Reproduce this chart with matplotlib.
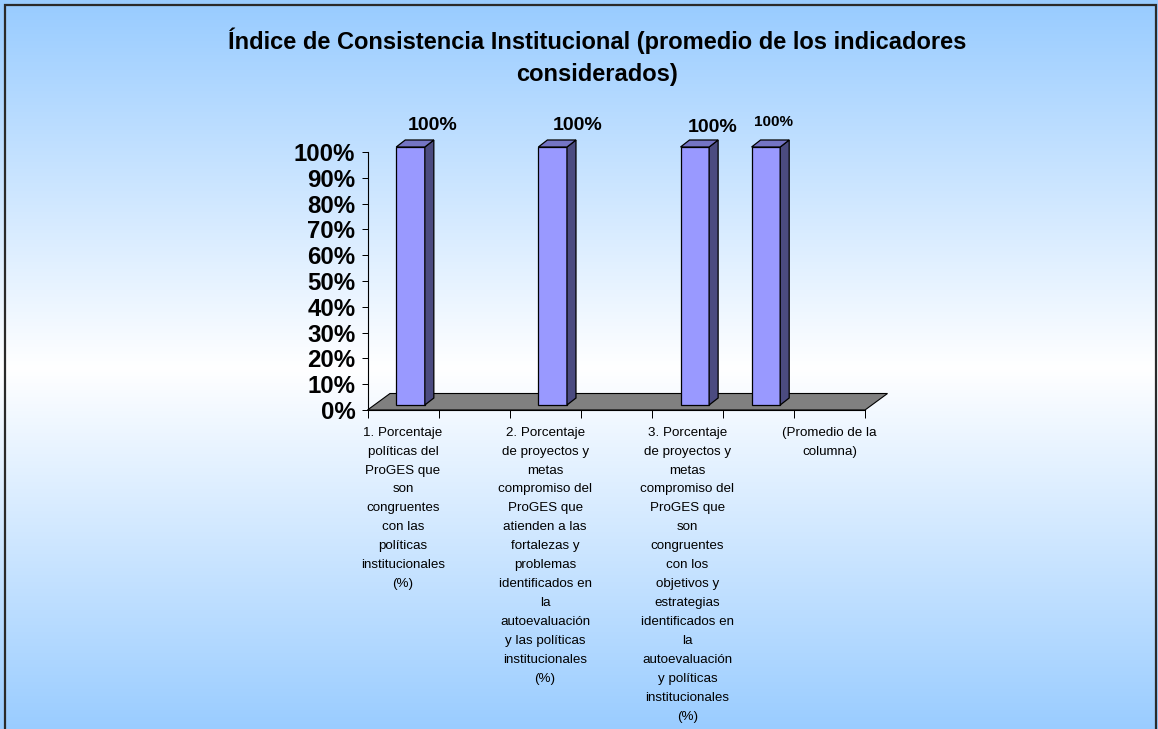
import numpy as np
import matplotlib
matplotlib.use("Agg")
import matplotlib.pyplot as plt
from matplotlib.patches import Polygon, Rectangle

plt.rcParams['font.family'] = ['Liberation Sans', 'DejaVu Sans']

# ---------------- data ----------------
title = "Índice de Consistencia Institucional (promedio de los indicadores\nconsiderados)"
categories = [
    "1. Porcentaje\npolíticas del\nProGES que\nson\ncongruentes\ncon las\npolíticas\ninstitucionales\n(%)",
    "",
    "2. Porcentaje\nde proyectos y\nmetas\ncompromiso del\nProGES que\natienden a las\nfortalezas y\nproblemas\nidentificados en\nla\nautoevaluación\ny las políticas\ninstitucionales\n(%)",
    "",
    "3. Porcentaje\nde proyectos y\nmetas\ncompromiso del\nProGES que\nson\ncongruentes\ncon los\nobjetivos y\nestrategias\nidentificados en\nla\nautoevaluación\ny políticas\ninstitucionales\n(%)",
    "",
    "(Promedio de la\ncolumna)",
]
values = [1.0, np.nan, 1.0, np.nan, 1.0, 1.0, np.nan]
y_ticks = [0.0, 0.1, 0.2, 0.3, 0.4, 0.5, 0.6, 0.7, 0.8, 0.9, 1.0]
y_tick_labels = ["0%", "10%", "20%", "30%", "40%", "50%", "60%", "70%", "80%", "90%", "100%"]

# ---------------- layout / style ----------------
W, H = 1158, 729
label_offsets_px = [(30, 27), (32, 27), (25, 24), (15, 30)]
label_sizes = [14, 14, 14, 11]
FRONT = '#9999FF'
SIDE = '#4B4B80'
TOP = '#7474C4'
FLOOR = '#808080'

fig = plt.figure(figsize=(W / 100, H / 100), dpi=100)

# background gradient
bg = fig.add_axes([0, 0, 1, 1], zorder=-10)
bg.axis('off')
rows = np.arange(H)
t = np.clip(np.abs(rows - 368) / 363.0, 0, 1)
blue = np.array([153, 204, 255]) / 255.0
white = np.array([1.0, 1.0, 1.0])
grad = white[None, :] * (1 - t[:, None]) + blue[None, :] * t[:, None]
img = np.repeat(grad[:, None, :], 4, axis=1)
bg.imshow(img, extent=[0, 1, 0, 1], aspect='auto', origin='upper')
bg.set_xlim(0, 1)
bg.set_ylim(0, 1)
bg.add_patch(Rectangle((4.5 / W, -0.2), (1156 - 4.5) / W, 0.2 + (H - 5) / H,
                       transform=fig.transFigure, fill=False, edgecolor='#2a2a2a',
                       lw=1.6, clip_on=False))

# title
fig.text(597 / W, 1 - 57 / H, title, ha='center', va='center', fontsize=17,
         fontweight='bold', linespacing=1.5)

# main axes (front plane)
x0, x1 = 367.5, 865.0
yb, yt = 410.0, 152.0
ax = fig.add_axes([x0 / W, (H - yb) / H, (x1 - x0) / W, (yb - yt) / H])
ax.patch.set_visible(False)
n = len(categories)
ax.set_xlim(-0.5, n - 0.5)
ax.set_ylim(0, 1)
for s in ['top', 'right']:
    ax.spines[s].set_visible(False)
for s in ['left', 'bottom']:
    ax.spines[s].set_linewidth(0.8)
    ax.spines[s].set_zorder(5)

ux = n / (x1 - x0)      # data units per pixel (x)
uy = 1.0 / (yb - yt)    # data units per pixel (y)

# floor
fdx, fdy = 22.5 * ux, 16.5 * uy
floor = Polygon([(-0.5, 0), (n - 0.5, 0), (n - 0.5 + fdx, fdy), (-0.5 + fdx, fdy)],
                closed=True, facecolor=FLOOR, edgecolor='black', lw=0.8,
                clip_on=False, zorder=1)
ax.add_patch(floor)

# bars
xs = np.arange(n)
bw = 28.6 * ux
boff_x, boff_y = 7.5 * ux, 5.0 * uy
ddx, ddy = 9.0 * ux, 7.0 * uy
vals = np.array(values, dtype=float)
mask = ~np.isnan(vals)
bars = ax.bar(xs[mask] + boff_x, vals[mask], width=bw, bottom=boff_y, color=FRONT,
              edgecolor='black', linewidth=0.9, zorder=3, clip_on=False)
for k, (xc, v) in enumerate(zip(xs[mask], vals[mask])):
    l = xc + boff_x - bw / 2
    r = xc + boff_x + bw / 2
    b = boff_y
    tp = boff_y + v
    ax.add_patch(Polygon([(r, b), (r + ddx, b + ddy), (r + ddx, tp + ddy), (r, tp)],
                         closed=True, facecolor=SIDE, edgecolor='black', lw=0.9,
                         clip_on=False, zorder=3))
    ax.add_patch(Polygon([(l, tp), (r, tp), (r + ddx, tp + ddy), (l + ddx, tp + ddy)],
                         closed=True, facecolor=TOP, edgecolor='black', lw=0.9,
                         clip_on=False, zorder=3))
    ox, oy = label_offsets_px[k]
    ax.annotate(f"{v:.0%}", (xc, v), xytext=(ox * 0.72, oy * 0.72),
                textcoords='offset points', ha='center', va='center',
                fontsize=label_sizes[k], fontweight='bold', annotation_clip=False)

# y axis ticks
ax.set_yticks(y_ticks)
ax.set_yticklabels(y_tick_labels, fontsize=17.3, fontweight='bold')
ax.tick_params(axis='y', length=4.3, width=0.72, pad=4.5, direction='out')

# x axis: boundary ticks + category labels on minor ticks
ax.set_xticks(np.arange(-0.5, n, 1.0))
ax.set_xticklabels([])
ax.tick_params(axis='x', which='major', length=5.8, width=0.72, direction='out')
ax.set_xticks(xs, minor=True)
ax.set_xticklabels(categories, minor=True, fontsize=9.6)
ax.tick_params(axis='x', which='minor', length=0, pad=12)
for lbl in ax.get_xticklabels(minor=True):
    lbl.set_linespacing(1.77)
    lbl.set_multialignment('center')

fig.savefig('out.png', dpi=100)
